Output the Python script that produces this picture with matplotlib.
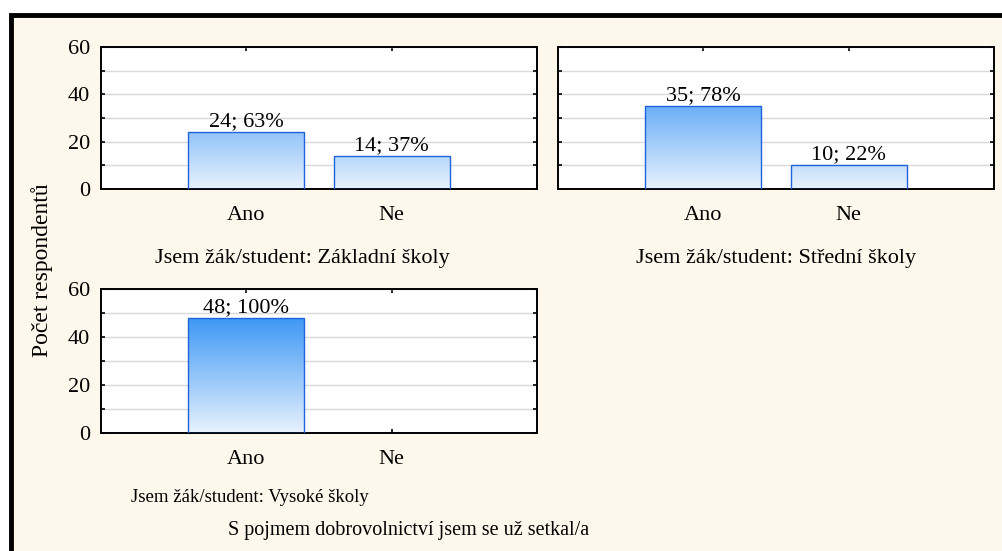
import numpy as np
import matplotlib
matplotlib.use('Agg')
import matplotlib.pyplot as plt
from matplotlib.colors import LinearSegmentedColormap
from matplotlib.patches import Rectangle

plt.rcParams['font.family'] = ['Liberation Serif', 'DejaVu Serif']

categories = ['Ano', 'Ne']
groups = ['Jsem žák/student: Základní školy',
          'Jsem žák/student: Střední školy',
          'Jsem žák/student: Vysoké školy']
counts = [[24, 14], [35, 10], [48, 0]]
percents = [[63, 37], [78, 22], [100, 0]]
y_label = 'Počet respondentů'
title = 'S pojmem dobrovolnictví jsem se už setkal/a'

W, H = 1003, 551
bg = '#fef8ec'
fig = plt.figure(figsize=(W / 100, H / 100), dpi=100, facecolor='white')

# cream panel with thick black top/left border
fig.patches.append(Rectangle((11 / W, -0.05), 1.1, 1 - 15 / H + 0.05,
                             transform=fig.transFigure, facecolor=bg,
                             edgecolor='black', linewidth=3.5, zorder=-5))

# gradient over 0..60 of the value axis
cmap = LinearSegmentedColormap.from_list('bars', ['#e8f2fd', '#1280f3'])

# axes boxes in pixels: left, top, right, bottom
boxes = [(101, 47, 537, 189), (558, 47, 994, 189), (101, 289, 537, 433)]
label_pos = [(302, 258), (776, 258), (250, 497)]
label_size = [16, 16, 13.5]

for i, (l, t, r, b) in enumerate(boxes):
    ax = fig.add_axes([l / W, 1 - b / H, (r - l) / W, (b - t) / H])
    ax.set_facecolor('white')
    x = np.arange(len(categories))
    bars = ax.bar(x, counts[i], width=0.8, color='none',
                  edgecolor='#1f63dc', linewidth=1.0, zorder=3)
    grad = np.linspace(0, 1, 256).reshape(-1, 1)
    for bar in bars:
        if bar.get_height() <= 0:
            bar.set_visible(False)
            continue
        im = ax.imshow(grad, cmap=cmap, origin='lower', aspect='auto',
                       extent=(-1, len(categories), 0, 60), zorder=2)
        im.set_clip_path(bar)
    for xi, c, p in zip(x, counts[i], percents[i]):
        if c > 0:
            ax.text(xi, c + 0.3, f'{c}; {p}%', ha='center', va='bottom',
                    fontsize=16, zorder=4)
    ax.set_xlim(-1, len(categories))
    ax.set_ylim(0, 60)
    ax.set_xticks(x)
    ax.set_xticklabels(categories, fontsize=16)
    ax.set_yticks([0, 20, 40, 60])
    ax.set_yticks([10, 30, 50], minor=True)
    ax.yaxis.grid(True, which='both', color='#d9d9d9', linewidth=1.0)
    ax.set_axisbelow(True)
    ax.tick_params(axis='both', which='both', direction='in', length=3,
                   width=1.2, top=True, right=True, labelsize=16)
    ax.tick_params(axis='x', pad=12)
    ax.tick_params(axis='y', pad=8)
    if i == 1:
        ax.set_yticklabels([])
    for s in ax.spines.values():
        s.set_linewidth(1.4)
    fig.text(label_pos[i][0] / W, 1 - label_pos[i][1] / H, groups[i],
             ha='center', va='center', fontsize=label_size[i])

fig.text(42 / W, 1 - 270 / H, y_label, rotation=90, ha='center',
         va='center', fontsize=17)
fig.text(409 / W, 1 - 531 / H, title, ha='center', va='center', fontsize=14.5)

fig.savefig('out.png', dpi=100, facecolor='white')
